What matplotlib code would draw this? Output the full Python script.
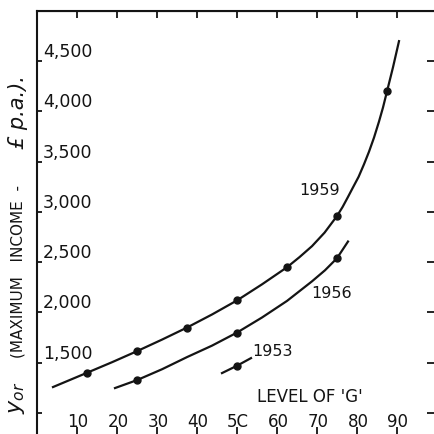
import matplotlib
matplotlib.use("Agg")
import matplotlib.pyplot as plt

# values
g_ticks = [10, 20, 30, 40, 50, 60, 70, 80, 90]
g_tick_labels = ["10", "20", "30", "40", "5C", "60", "70", "80", "90"]
y_ticks = [1000, 1500, 2000, 2500, 3000, 3500, 4000, 4500]
y_tick_labels = ["", "1,500", "2,000", "2,500", "3,000", "3,500", "4,000", "4,500"]

# 1959 curve (traced) and its marked points
g_1959 = [4, 12.5, 18.75, 25, 31.25, 37.5, 43.75, 50, 56.25, 62.5, 65.6, 68.75, 71.9,
          75, 76.4, 77.75, 79, 80.4, 81.75, 83, 84.25, 85.5, 86.5, 87.5, 89, 90.5]
y_1959 = [1258, 1400, 1505, 1615, 1730, 1850, 1980, 2120, 2280, 2450, 2550, 2660, 2795,
          2960, 3050, 3150, 3245, 3350, 3475, 3600, 3740, 3900, 4040, 4200, 4440, 4700]
pts_g_1959 = [12.5, 25, 37.5, 50, 62.5, 75, 87.5]
pts_y_1959 = [1400, 1615, 1850, 2120, 2450, 2960, 4200]

# 1956
g_1956 = [19.5, 25, 31.25, 37.5, 43.75, 50, 56.25, 62.5, 68.75, 72, 75, 77.75]
y_1956 = [1248, 1327, 1435, 1556, 1670, 1800, 1950, 2115, 2310, 2420, 2540, 2706]
pts_g_1956 = [25, 50, 75]
pts_y_1956 = [1327, 1800, 2540]

# 1953
g_1953 = [46.25, 50, 53.5]
y_1953 = [1397, 1470, 1546]
pts_g_1953 = [50]
pts_y_1953 = [1470]

ink = "#141414"
font = "DejaVu Sans"

fig = plt.figure(figsize=(4.34, 4.34), dpi=100)
ax = fig.add_axes([37 / 434, -4 / 434, 400 / 434, 427 / 434])
ax.set_xlim(0, 100)
ax.set_ylim(751, 5000)

for sp in ax.spines.values():
    sp.set_linewidth(1.5)
    sp.set_color(ink)

# curves
ax.plot(g_1959, y_1959, color=ink, lw=1.6)
ax.plot(pts_g_1959, pts_y_1959, "o", color=ink, ms=5)
ax.plot(g_1956, y_1956, color=ink, lw=1.6)
ax.plot(pts_g_1956, pts_y_1956, "o", color=ink, ms=5)
ax.plot(g_1953, y_1953, color=ink, lw=1.6)
ax.plot(pts_g_1953, pts_y_1953, "o", color=ink, ms=5)

ax.text(70.75, 3212, "1959", fontsize=11.5, ha="center", va="center", color=ink, family=font)
ax.text(73.75, 2190, "1956", fontsize=11.5, ha="center", va="center", color=ink, family=font)
ax.text(59, 1615, "1953", fontsize=11.5, ha="center", va="center", color=ink, family=font)
ax.text(68.25, 1155, "LEVEL OF 'G'", fontsize=12, ha="center", va="center", color=ink, family=font)

# ticks: bottom/left on main axes, top/right on secondary axes
ax.set_xticks(g_ticks)
ax.set_yticks(y_ticks)
ax.set_xticklabels([])
ax.set_yticklabels([])
ax.tick_params(axis="x", direction="in", length=8, width=1.3, color=ink)
ax.tick_params(axis="y", direction="in", length=3.5, width=1.3, color=ink)

top = ax.secondary_xaxis("top")
top.set_xticks(g_ticks)
top.set_xticklabels([])
top.tick_params(direction="in", length=5, width=1.3, color=ink)
right = ax.secondary_yaxis("right")
right.set_yticks(y_ticks)
right.set_yticklabels([])
right.tick_params(direction="in", length=7, width=1.3, color=ink)

# tick labels drawn inside the frame
for g, lab in zip(g_ticks, g_tick_labels):
    ax.annotate(lab, xy=(g, 0), xycoords=("data", "axes fraction"),
                xytext=(1, 16), textcoords="offset pixels",
                ha="center", va="center", fontsize=12, color=ink, family=font)
for v, lab in zip(y_ticks, y_tick_labels):
    ax.annotate(lab, xy=(0, v), xycoords=("axes fraction", "data"),
                xytext=(6, 9), textcoords="offset pixels",
                ha="left", va="center", fontsize=12.5, color=ink, family=font)

# y label
fig.text(18 / 434, 1 - 272 / 434, "(MAXIMUM   INCOME  -", rotation=90, fontsize=11,
         ha="center", va="center", color=ink, family=font)
fig.text(18 / 434, 1 - 112 / 434, "£ p.a.).", rotation=90, fontsize=15, style="italic",
         ha="center", va="center", color=ink, family=font)
fig.text(17 / 434, 1 - 398 / 434, r"$y_{or}$", rotation=90, fontsize=16,
         ha="center", va="center", color=ink)

fig.savefig("out.png", dpi=100)
